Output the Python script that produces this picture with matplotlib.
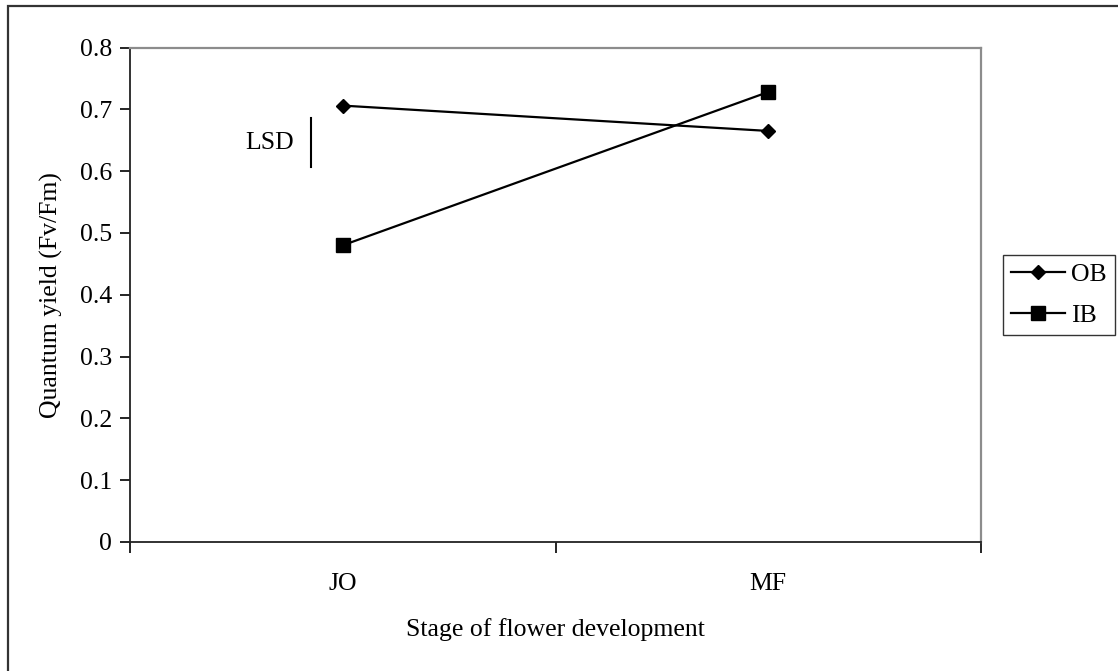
import numpy as np
import matplotlib
matplotlib.use("Agg")
import matplotlib.pyplot as plt
from matplotlib.patches import Rectangle

# dados
estagios = ["JO", "MF"]
ob = [0.706, 0.665]
ib = [0.480, 0.728]
lsd = [0.606, 0.686]
y_ticks = [0.0, 0.1, 0.2, 0.3, 0.4, 0.5, 0.6, 0.7, 0.8]
y_labels = ["0", "0.1", "0.2", "0.3", "0.4", "0.5", "0.6", "0.7", "0.8"]

FS = 18.5
plt.rcParams["font.family"] = ["Liberation Serif", "DejaVu Serif"]
plt.rcParams["font.size"] = FS

W, H = 1118, 671
fig = plt.figure(figsize=(W / 100, H / 100), dpi=100)

# caixa do eixo em pixels
x0, y0, x1, y1 = 130, 47.5, 981, 542
ax = fig.add_axes([x0 / W, 1 - y1 / H, (x1 - x0) / W, (y1 - y0) / H])

x = np.arange(len(estagios)) + 0.5
ax.plot(x, ob, color="black", lw=1.6, marker="D", ms=7.5, label="OB")
ax.plot(x, ib, color="black", lw=1.6, marker="s", ms=9.5, label="IB")

# barra de LSD
ax.plot([0.425, 0.425], lsd, color="black", lw=1.5)
ax.text(0.327, np.mean(lsd), "LSD", ha="center", va="center", fontsize=FS)

ax.set_xlim(0, len(estagios))
ax.set_ylim(0, 0.8)
ax.set_xticks(np.arange(len(estagios) + 1))
ax.set_xticklabels([])
ax.set_xticks(x, minor=True)
ax.set_xticklabels(estagios, minor=True)
ax.tick_params(axis="x", which="major", length=8, width=1.2, direction="out")
ax.tick_params(axis="x", which="minor", length=0, pad=22)
ax.set_yticks(y_ticks)
ax.set_yticklabels(y_labels)
ax.tick_params(axis="y", length=7, width=1.2, direction="out", pad=6)

for s in ["left", "bottom"]:
    ax.spines[s].set_color("#222222")
    ax.spines[s].set_linewidth(1.3)
for s in ["top", "right"]:
    ax.spines[s].set_color("#8c8c8c")
    ax.spines[s].set_linewidth(1.6)

ax.set_xlabel("Stage of flower development", fontsize=FS, labelpad=17)
ax.set_ylabel("Quantum yield (Fv/Fm)", fontsize=FS, labelpad=12)

# moldura da figura
fig.patches.append(Rectangle((8 / W, -0.2), 1.2, 1.2 - 6 / H,
                             transform=fig.transFigure, fill=False,
                             edgecolor="#333333", lw=1.6))

leg = fig.legend(loc="center left", bbox_to_anchor=(1003 / W, 1 - 295 / H),
                 frameon=True, fancybox=False, edgecolor="black",
                 handlelength=2.1, handletextpad=0.2, borderpad=0.33,
                 labelspacing=0.7, borderaxespad=0, fontsize=FS)
leg.get_frame().set_linewidth(1.0)

fig.savefig("out.png", dpi=100)
